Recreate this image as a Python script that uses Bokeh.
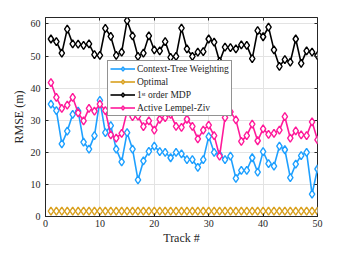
from bokeh.plotting import figure
from bokeh.models import Range1d, FixedTicker, LinearAxis, Legend, LegendItem, CustomJSTickFormatter
from bokeh.embed import file_html
from bokeh.resources import INLINE

tracks = list(range(1, 51))

ctw = [35.0, 33.0, 22.6, 26.6, 31.8, 32.8, 23.2, 21.0, 25.2, 36.2,
       26.1, 28.3, 21.0, 17.0, 26.1, 21.0, 11.4, 17.3, 20.3, 21.9,
       20.2, 20.0, 18.3, 20.0, 19.5, 17.7, 17.7, 15.3, 17.7, 24.9,
       20.0, 19.3, 17.7, 18.8, 11.9, 14.4, 14.4, 18.3, 13.8, 20.2,
       16.5, 15.7, 21.9, 20.8, 12.1, 16.3, 19.0, 20.0, 7.0, 14.8]

optimal = [1.7] * 50

mdp = [55.3, 54.5, 50.9, 58.4, 53.8, 53.7, 53.3, 53.8, 50.4, 50.2,
       58.6, 56.1, 50.2, 51.2, 61.0, 56.3, 49.9, 50.9, 56.3, 51.9,
       51.6, 54.5, 49.6, 49.9, 58.7, 52.2, 49.9, 51.2, 51.4, 55.3,
       54.3, 48.3, 52.8, 52.6, 52.2, 53.5, 53.3, 49.2, 57.9, 56.0,
       59.0, 51.9, 46.8, 48.9, 48.1, 55.3, 47.7, 51.6, 51.2, 50.1]

alz = [41.7, 37.1, 33.7, 34.7, 37.1, 32.3, 29.8, 33.7, 32.8, 35.0,
       33.0, 25.4, 24.4, 25.9, 32.8, 31.1, 31.3, 28.0, 29.8, 26.9,
       30.3, 30.8, 31.8, 28.1, 27.8, 30.3, 28.1, 24.2, 26.9, 28.5,
       25.2, 18.8, 30.8, 32.6, 30.1, 23.4, 25.2, 28.8, 23.6, 27.3,
       25.6, 25.9, 26.9, 31.1, 24.4, 26.7, 25.4, 25.2, 29.5, 23.9]

names = ["Context-Tree Weighting", "Optimal", "1\u02e2\u1d57 order MDP", "Active Lempel-Ziv"]
colors = ["#1ea0ff", "#d9a01e", "#000000", "#ff1a9a"]
series = [ctw, optimal, mdp, alz]

x_ticks = [0, 10, 20, 30, 40, 50]
y_ticks = [0, 10, 20, 30, 40, 50, 60]

FONT = "Liberation Serif"
AX = "#262626"

p = figure(width=334, height=247, output_backend="svg", toolbar_location=None,
           x_range=Range1d(0, 50), y_range=Range1d(0, 62),
           min_border_left=45, min_border_right=17, min_border_top=17, min_border_bottom=28,
           x_axis_label="Track #", y_axis_label="RMSE (m)")
p.outline_line_color = AX
p.outline_line_width = 1
p.background_fill_color = "white"
p.border_fill_color = "white"

for ax in (p.xaxis[0], p.yaxis[0]):
    ax.major_tick_in = 3
    ax.major_tick_out = 0
    ax.minor_tick_in = 0
    ax.minor_tick_out = 0
    ax.axis_line_color = AX
    ax.major_tick_line_color = AX
    ax.major_label_text_font = FONT
    ax.major_label_text_font_size = "10px"
    ax.major_label_text_color = AX
    ax.axis_label_text_font = FONT
    ax.axis_label_text_font_size = "12px"
    ax.axis_label_text_font_style = "normal"
    ax.axis_label_text_color = AX
p.xaxis.ticker = FixedTicker(ticks=x_ticks)
p.yaxis.ticker = FixedTicker(ticks=y_ticks)
p.xaxis.major_label_standoff = 3
p.yaxis.major_label_standoff = 5
p.xaxis.axis_label_standoff = 1
p.yaxis.axis_label_standoff = 2

blank = CustomJSTickFormatter(code="return ''")
ra = LinearAxis(ticker=FixedTicker(ticks=y_ticks), formatter=blank, major_tick_in=3, major_tick_out=0,
                minor_tick_in=0, minor_tick_out=0, axis_line_color=None, major_tick_line_color=AX,
                major_label_text_font_size="1px")
ta = LinearAxis(ticker=FixedTicker(ticks=x_ticks), formatter=blank, major_tick_in=3, major_tick_out=0,
                minor_tick_in=0, minor_tick_out=0, axis_line_color=None, major_tick_line_color=AX,
                major_label_text_font_size="1px")
p.add_layout(ra, "right")
p.add_layout(ta, "above")

p.xgrid.ticker = FixedTicker(ticks=x_ticks)
p.ygrid.ticker = FixedTicker(ticks=y_ticks)
p.grid.grid_line_color = "#e3e3e3"
p.grid.grid_line_width = 1

items = []
for name, col, vals in zip(names, colors, series):
    l = p.line(tracks, vals, line_color=col, line_width=1.6)
    s = p.scatter(tracks, vals, marker="diamond", size=8, line_color=col, line_width=1.4,
                  fill_color="white")
    items.append(LegendItem(label=name, renderers=[l, s]))

legend = Legend(items=items, location=(62, 100))
legend.border_line_color = "#262626"
legend.border_line_width = 1
legend.background_fill_color = "white"
legend.background_fill_alpha = 1
legend.label_text_font = FONT
legend.label_text_font_size = "9.5px"
legend.label_text_color = "#262626"
legend.label_height = 10
legend.glyph_height = 11
legend.glyph_width = 25
legend.spacing = 2
legend.padding = 2
legend.margin = 0
legend.label_standoff = 2
p.add_layout(legend, "center")

open("out.html", "w").write(file_html(p, INLINE))
